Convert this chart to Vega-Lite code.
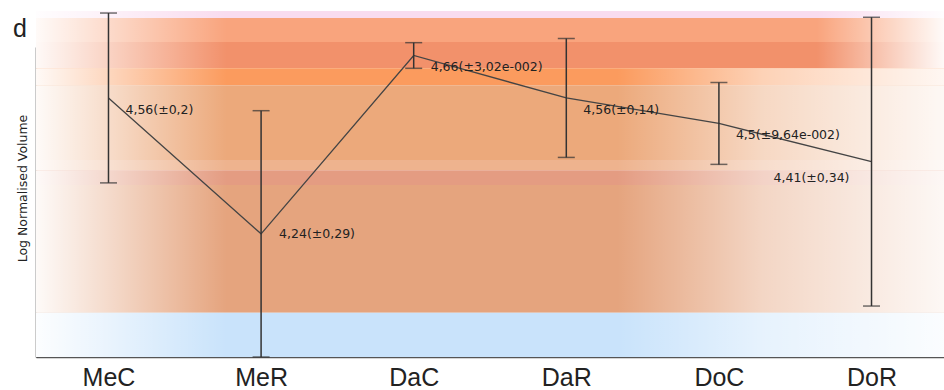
{
  "$schema": "https://vega.github.io/schema/vega-lite/v6.json",
  "width": 908,
  "height": 310,
  "autosize": {"type": "none"},
  "padding": {"top": 47, "left": 36, "right": 0, "bottom": 33},
  "background": "white",
  "title": {
    "text": "d",
    "anchor": "start",
    "frame": "group",
    "dx": -23,
    "dy": 26,
    "offset": -25,
    "baseline": "alphabetic",
    "font": "Liberation Sans",
    "fontSize": 25,
    "fontWeight": "normal",
    "color": "#222222"
  },
  "datasets": {
    "stats": [
      {"group": "MeC", "mean": 4.56, "err": 0.2, "label": "4,56(±0,2)"},
      {"group": "MeR", "mean": 4.24, "err": 0.29, "label": "4,24(±0,29)"},
      {"group": "DaC", "mean": 4.66, "err": 0.0302, "label": "4,66(±3,02e-002)"},
      {"group": "DaR", "mean": 4.56, "err": 0.14, "label": "4,56(±0,14)"},
      {"group": "DoC", "mean": 4.5, "err": 0.0964, "label": "4,5(±9,64e-002)"},
      {"group": "DoR", "mean": 4.41, "err": 0.34, "label": "4,41(±0,34)"}
    ],
    "zones": [
      {"band": "z1", "lo": 4.748, "hi": 4.765, "tier": "upper"},
      {"band": "z2", "lo": 4.692, "hi": 4.748, "tier": "upper"},
      {"band": "z3", "lo": 4.63, "hi": 4.692, "tier": "upper"},
      {"band": "z4", "lo": 4.59, "hi": 4.63, "tier": "lower"},
      {"band": "z5", "lo": 4.414, "hi": 4.59, "tier": "lower"},
      {"band": "z6", "lo": 4.39, "hi": 4.414, "tier": "lower"},
      {"band": "z7", "lo": 4.355, "hi": 4.39, "tier": "lower"},
      {"band": "z8", "lo": 4.054, "hi": 4.355, "tier": "lower"},
      {"band": "z9", "lo": 3.95, "hi": 4.054, "tier": "lower"}
    ]
  },
  "config": {
    "view": {"stroke": null},
    "axisY": {
      "domain": true,
      "domainColor": "#333333",
      "domainWidth": 1.5,
      "ticks": false,
      "labels": false,
      "grid": false,
      "titleFont": "DejaVu Sans",
      "titleFontSize": 12.5,
      "titleFontWeight": "normal",
      "titleColor": "#222222",
      "titlePadding": 7,
      "titleY": 141
    },
    "axisX": {
      "domain": true,
      "domainColor": "#555555",
      "domainWidth": 1.5,
      "ticks": false,
      "grid": false,
      "labelAngle": 0,
      "labelFont": "Liberation Sans",
      "labelFontSize": 25,
      "labelColor": "#222222",
      "labelPadding": 8,
      "title": null
    }
  },
  "layer": [
    {
      "data": {"name": "zones"},
      "mark": {"type": "rect"},
      "encoding": {
        "x": {"value": 0},
        "x2": {"value": "width"},
        "y": {"field": "lo", "type": "quantitative", "title": "Log Normalised Volume",
              "scale": {"domain": [3.95, 4.68], "nice": false, "zero": false}},
        "y2": {"field": "hi"},
        "color": {
          "field": "band", "type": "nominal", "legend": null,
          "scale": {
            "domain": ["z1", "z2", "z3", "z4", "z5", "z6", "z7", "z8", "z9"],
            "range": ["#f9dcef", "#f9a47d", "#f2916b", "#fb9b5e", "#eca97b", "#eeb38e", "#e49c82", "#e5a47e", "#c9e3fb"]
          }
        }
      }
    },
    {
      "data": {"name": "zones"},
      "mark": {
        "type": "rect",
        "fill": {
          "gradient": "linear", "x1": 0, "y1": 0, "x2": 1, "y2": 0,
          "stops": [
            {"offset": 0, "color": "rgba(255,255,255,0.95)"},
            {"offset": 0.08, "color": "rgba(255,255,255,0.6)"},
            {"offset": 0.21, "color": "rgba(255,255,255,0)"}
          ]
        }
      },
      "encoding": {
        "x": {"value": 0},
        "x2": {"value": "width"},
        "y": {"field": "lo", "type": "quantitative", "title": "Log Normalised Volume",
              "scale": {"domain": [3.95, 4.68], "nice": false, "zero": false}},
        "y2": {"field": "hi"}
      }
    },
    {
      "data": {"name": "zones"},
      "transform": [{"filter": "datum.tier === 'lower'"}],
      "mark": {
        "type": "rect",
        "fill": {
          "gradient": "linear", "x1": 0, "y1": 0, "x2": 1, "y2": 0,
          "stops": [
            {"offset": 0.64, "color": "rgba(255,255,255,0)"},
            {"offset": 0.8, "color": "rgba(255,255,255,0.55)"},
            {"offset": 1, "color": "rgba(255,255,255,0.92)"}
          ]
        }
      },
      "encoding": {
        "x": {"value": 0},
        "x2": {"value": "width"},
        "y": {"field": "lo", "type": "quantitative", "title": "Log Normalised Volume",
              "scale": {"domain": [3.95, 4.68], "nice": false, "zero": false}},
        "y2": {"field": "hi"}
      }
    },
    {
      "data": {"name": "zones"},
      "transform": [{"filter": "datum.tier === 'upper'"}],
      "mark": {
        "type": "rect",
        "fill": {
          "gradient": "linear", "x1": 0, "y1": 0, "x2": 1, "y2": 0,
          "stops": [
            {"offset": 0.86, "color": "rgba(255,255,255,0)"},
            {"offset": 1, "color": "rgba(255,255,255,0.95)"}
          ]
        }
      },
      "encoding": {
        "x": {"value": 0},
        "x2": {"value": "width"},
        "y": {"field": "lo", "type": "quantitative", "title": "Log Normalised Volume",
              "scale": {"domain": [3.95, 4.68], "nice": false, "zero": false}},
        "y2": {"field": "hi"}
      }
    },
    {
      "data": {"name": "stats"},
      "mark": {"type": "line", "color": "#444444", "strokeWidth": 1.3},
      "encoding": {
        "x": {"field": "group", "type": "nominal",
              "scale": {"type": "point", "domain": ["MeC", "MeR", "DaC", "DaR", "DoC", "DoR"], "padding": 0.475}},
        "y": {"field": "mean", "type": "quantitative", "title": "Log Normalised Volume",
              "scale": {"domain": [3.95, 4.68], "nice": false, "zero": false}}
      }
    },
    {
      "data": {"name": "stats"},
      "mark": {"type": "errorbar", "ticks": true, "size": 17, "thickness": 1.5, "color": "#333333"},
      "encoding": {
        "x": {"field": "group", "type": "nominal",
              "scale": {"type": "point", "domain": ["MeC", "MeR", "DaC", "DaR", "DoC", "DoR"], "padding": 0.475}},
        "y": {"field": "mean", "type": "quantitative", "title": "Log Normalised Volume",
              "scale": {"domain": [3.95, 4.68], "nice": false, "zero": false}},
        "yError": {"field": "err"}
      }
    },
    {
      "data": {"name": "stats"},
      "transform": [{"filter": "indexof(['MeC','DaC','DaR','DoC'], datum.group) >= 0"}],
      "mark": {"type": "text", "align": "left", "baseline": "middle", "dx": 17, "dy": 12,
               "font": "DejaVu Sans", "fontSize": 12.5, "color": "#222222"},
      "encoding": {
        "x": {"field": "group", "type": "nominal",
              "scale": {"type": "point", "domain": ["MeC", "MeR", "DaC", "DaR", "DoC", "DoR"], "padding": 0.475}},
        "y": {"field": "mean", "type": "quantitative", "title": "Log Normalised Volume",
              "scale": {"domain": [3.95, 4.68], "nice": false, "zero": false}},
        "text": {"field": "label"}
      }
    },
    {
      "data": {"name": "stats"},
      "transform": [{"filter": "datum.group === 'MeR'"}],
      "mark": {"type": "text", "align": "left", "baseline": "middle", "dx": 18, "dy": 0,
               "font": "DejaVu Sans", "fontSize": 12.5, "color": "#222222"},
      "encoding": {
        "x": {"field": "group", "type": "nominal",
              "scale": {"type": "point", "domain": ["MeC", "MeR", "DaC", "DaR", "DoC", "DoR"], "padding": 0.475}},
        "y": {"field": "mean", "type": "quantitative", "title": "Log Normalised Volume",
              "scale": {"domain": [3.95, 4.68], "nice": false, "zero": false}},
        "text": {"field": "label"}
      }
    },
    {
      "data": {"name": "stats"},
      "transform": [{"filter": "datum.group === 'DoR'"}],
      "mark": {"type": "text", "align": "right", "baseline": "middle", "dx": -22, "dy": 16,
               "font": "DejaVu Sans", "fontSize": 12.5, "color": "#222222"},
      "encoding": {
        "x": {"field": "group", "type": "nominal",
              "scale": {"type": "point", "domain": ["MeC", "MeR", "DaC", "DaR", "DoC", "DoR"], "padding": 0.475}},
        "y": {"field": "mean", "type": "quantitative", "title": "Log Normalised Volume",
              "scale": {"domain": [3.95, 4.68], "nice": false, "zero": false}},
        "text": {"field": "label"}
      }
    }
  ]
}
